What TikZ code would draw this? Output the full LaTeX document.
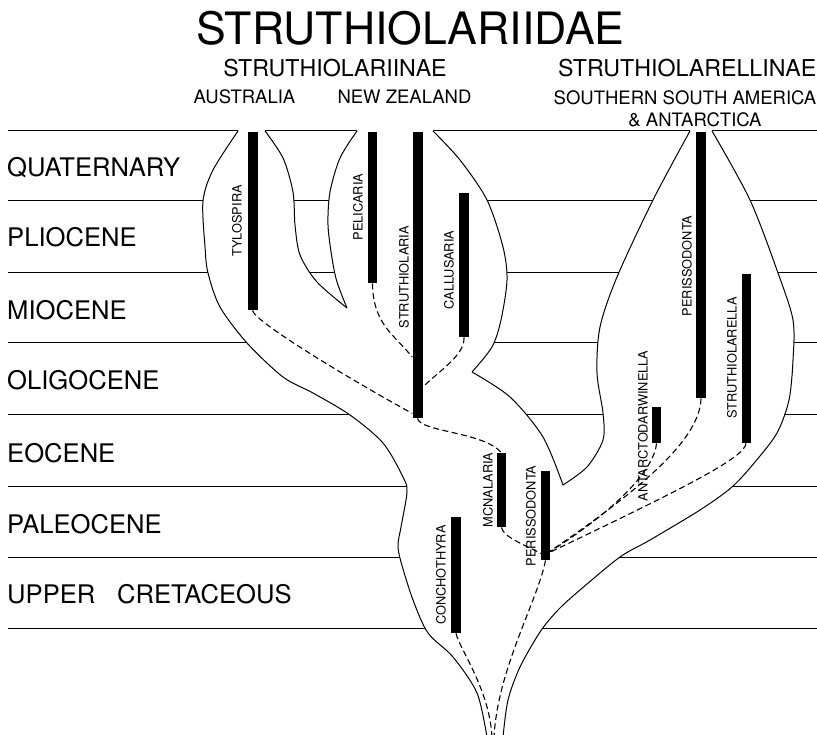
\documentclass[tikz,border=0pt]{standalone}
\usepackage{fontspec}
\setmainfont{TeX Gyre Heros}
\usetikzlibrary{arrows.meta}

\newcommand\EdgeA{--plot[smooth,tension=0.5] coordinates {(487,737) (477,693) (453,657) (428,633) (413,600) (401,562) (398,545) (401,527) (407,492) (403,477) (383,443) (350,415) (313,393) (283,377) (247,343) (220,307) (208,273) (205,247) (203,201) (213,170) (238,131)}}
\newcommand\EdgeB{--plot[smooth,tension=0.5] coordinates {(265,131) (283,158) (293,192) (295,225) (300,255) (317,282) (347,308)}}
\newcommand\EdgeC{--plot[smooth,tension=0.5] coordinates {(347,308) (337,282) (332,258) (328,225) (330,192) (340,158) (357,131)}}
\newcommand\EdgeD{--plot[smooth,tension=0.5] coordinates {(433,131) (460,160) (487,200) (503,247) (507,280) (501,320) (492,347) (472,372)}}
\newcommand\EdgeE{--plot[smooth,tension=0.5] coordinates {(472,372) (510,397) (543,437) (563,485)}}
\newcommand\EdgeF{--plot[smooth,tension=0.5] coordinates {(563,485) (587,467) (603,440) (603,413) (597,373) (600,327) (617,277) (653,200) (690,131)}}
\newcommand\EdgeG{--plot[smooth,tension=0.5] coordinates {(712,131) (750,200) (778,273) (793,320) (793,360) (789,400) (777,433) (755,462) (732,487) (700,510) (650,540) (620,557) (580,590) (558,610) (540,632) (520,667) (508,700) (503,737)}}

\begin{document}
\begin{tikzpicture}[x=1pt,y=-1pt,
  hline/.style={line width=1pt},
  outline/.style={line width=1pt, line join=round},
  bar/.style={fill=black, draw=none, inner sep=0pt, minimum width=10pt, anchor=north},
  barlabel/.style={rotate=90, inner sep=0pt, font=\fontsize{12.8}{13}\selectfont},
  era/.style={anchor=base west, inner sep=0pt, font=\fontsize{25.6}{26}\selectfont},
  sub/.style={inner sep=0pt, font=\fontsize{23.2}{24}\selectfont},
  region/.style={inner sep=0pt, font=\fontsize{18.5}{19}\selectfont},
  conn/.style={line width=1.1pt, dash pattern=on 6pt off 3.5pt}]
\useasboundingbox[fill=white] (0,0) rectangle (817,735);

% time lines
\foreach \yy in {131,201,273,343,414,486,557,628}
  \draw[hline] (8,\yy) -- (817,\yy);

% clade outline
\fill[white] (487,740) \EdgeA -- (238,129) -- (265,129) \EdgeB \EdgeC -- (357,129) -- (433,129) \EdgeD \EdgeE \EdgeF -- (690,129) -- (712,129) \EdgeG -- (503,740) -- cycle;
\draw[outline] (487,737) \EdgeA;
\draw[outline] (265,131) \EdgeB;
\draw[outline] (347,308) \EdgeC;
\draw[outline] (433,131) \EdgeD;
\draw[outline] (472,372) \EdgeE;
\draw[outline] (563,485) \EdgeF;
\draw[outline] (712,131) \EdgeG;

% ranges
\node[bar, minimum height=178pt] (tylo) at (252.5,132) {};
\node[bar, minimum height=151pt, minimum width=9.5pt] (peli) at (372.5,132) {};
\node[bar, minimum height=286pt] (struth) at (417.5,132) {};
\node[bar, minimum height=144pt] (callus) at (464,193) {};
\node[bar, minimum height=266pt] (persa) at (701,132) {};
\node[bar, minimum height=169pt, minimum width=9pt] (strella) at (746,274) {};
\node[bar, minimum height=36pt, minimum width=9pt] (antarc) at (656.5,407) {};
\node[bar, minimum height=74pt, minimum width=9pt] (mcnal) at (501.5,453) {};
\node[bar, minimum height=89pt, minimum width=9pt] (perlow) at (545.5,471) {};
\node[bar, minimum height=116pt] (conch) at (456,517) {};

% range labels
\node[barlabel] (ltylo) at (237,221) {TYLOSPIRA};
\node[barlabel] (lpeli) at (358,207) {PELICARIA};
\node[barlabel] (lstruth) at (404,277) {STRUTHIOLARIA};
\node[barlabel] (lcallus) at (449,270) {CALLUSARIA};
\node[barlabel] (lpersa) at (687,266) {PERISSODONTA};
\node[barlabel] (lstrella) at (732,358) {STRUTHIOLARELLA};
\node[barlabel] (lantarc) at (643,426) {ANTARCTODARWINELLA};
\node[barlabel] (lmcnal) at (488,490) {MCNALARIA};
\node[barlabel] (lperlow) at (531,516) {PERISSODONTA};
\node[barlabel] (lconch) at (441,575) {CONCHOTHYRA};

% relationships
\coordinate (base1) at (494,738);
\coordinate (base2) at (492,738);
\draw[conn] (tylo.south) .. controls (254,322) and (360,385) .. ([yshift=5pt]struth.south west);
\draw[conn] (peli.south) .. controls (373,325) and (395,335) .. ([yshift=-82pt]struth.west);
\draw[conn] (callus.south) .. controls (465,355) and (440,370) .. ([yshift=-112pt]struth.east);
\draw[conn] (struth.south) .. controls (420,432) and (485,432) .. (mcnal.north);
\draw[conn] (mcnal.south) .. controls (503,537) and (525,545) .. ([yshift=7pt]perlow.south west);
\draw[conn] (antarc.south) .. controls (655,465) and (625,505) .. ([yshift=6pt]perlow.south);
\draw[conn] (persa.south) .. controls (700,440) and (640,490) .. ([yshift=6pt]perlow.south);
\draw[conn] (strella.south) .. controls (745,458) and (680,490) .. ([yshift=6pt]perlow.south);
\draw[conn] (perlow.south) .. controls (538,600) and (497,670) .. (base1);
\draw[conn] (conch.south) .. controls (460,650) and (490,690) .. (base2);

% eras
\node[era] (quat) at (7,177) {QUATERNARY};
\node[era] (plio) at (7,247) {PLIOCENE};
\node[era] (mio) at (7,320) {MIOCENE};
\node[era] (oligo) at (7,390) {OLIGOCENE};
\node[era] (eo) at (7,462) {EOCENE};
\node[era] (paleo) at (7,533) {PALEOCENE};
\node[era] (cret) at (7,603) {UPPER\hspace{0.85em}CRETACEOUS};

% headings
\node[inner sep=0pt, anchor=base, font=\fontsize{44.6}{46}\selectfont] (title) at (410.5,45) {STRUTHIOLARIIDAE};
\node[sub, anchor=base] (sub1) at (335,77) {STRUTHIOLARIINAE};
\node[sub, anchor=base east] (sub2) at (816.5,77) {STRUTHIOLARELLINAE};
\node[region, anchor=base] (aus) at (244.5,104) {AUSTRALIA};
\node[region, anchor=base] (nz) at (404.5,104) {NEW ZEALAND};
\node[region, anchor=base east] (ssa) at (816.5,105) {SOUTHERN SOUTH AMERICA};
\node[region, anchor=base] (antc) at (695,127) {\& ANTARCTICA};
\end{tikzpicture}
\end{document}
